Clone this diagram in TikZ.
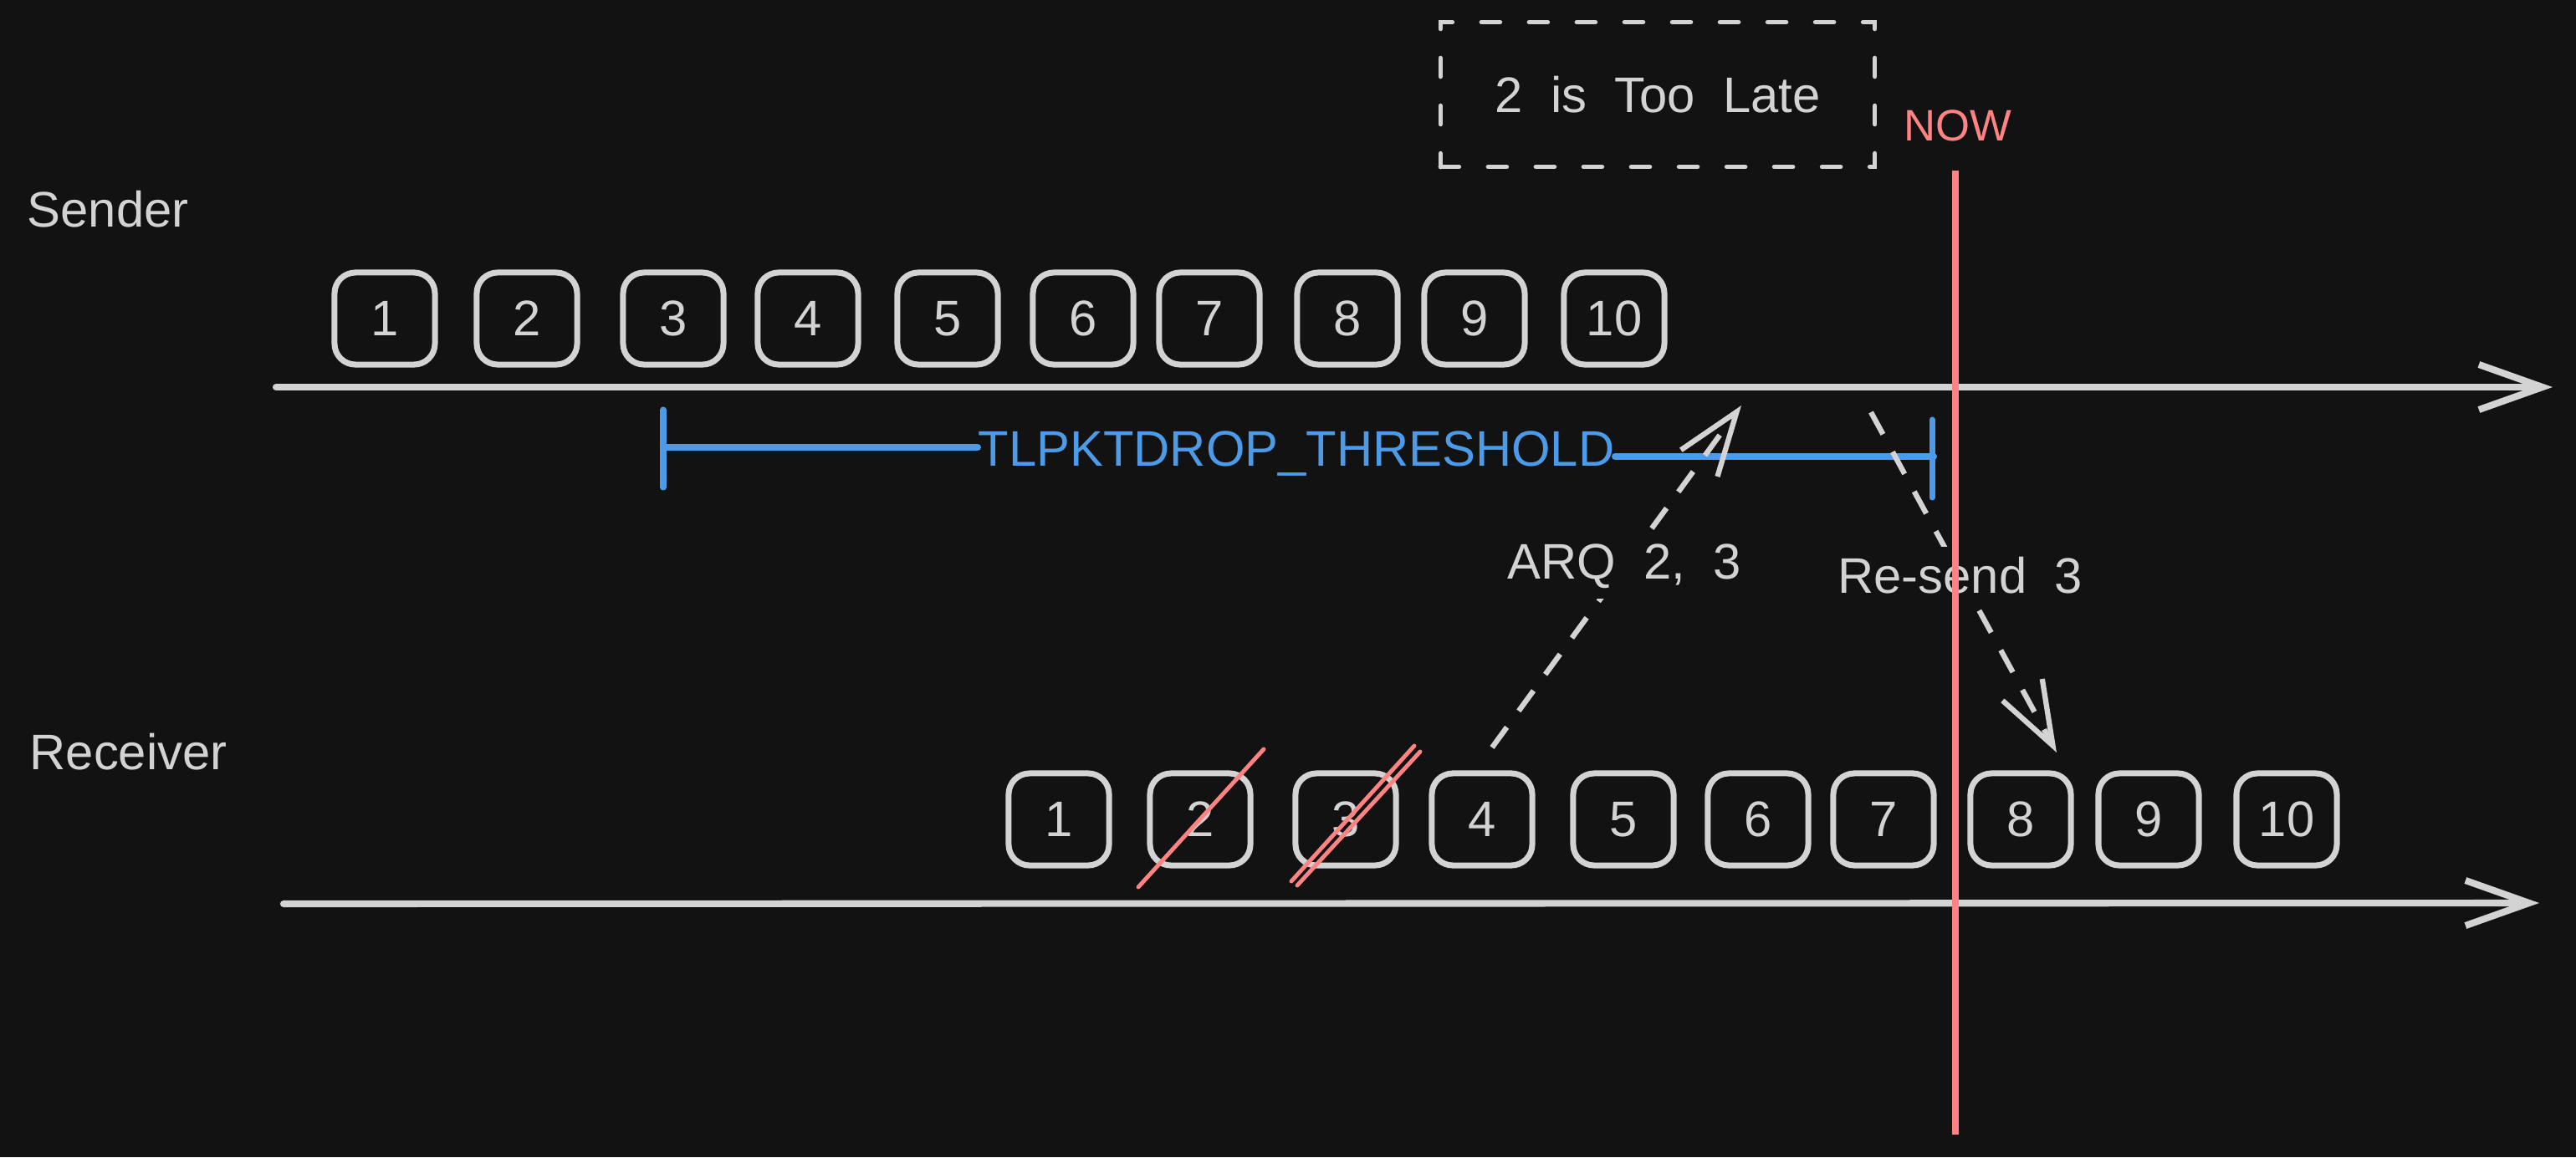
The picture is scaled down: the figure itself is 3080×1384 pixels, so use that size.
\documentclass[tikz,border=0pt]{standalone}
\usepackage{fontspec}
\setmainfont{Liberation Sans}[WordSpace=2]
\usetikzlibrary{arrows.meta}
\definecolor{bg}{HTML}{121212}
\definecolor{fg}{HTML}{D3D3D3}
\definecolor{nowred}{HTML}{FF8383}
\definecolor{thblue}{HTML}{4C9BE8}
\tikzset{
  txt/.style={font=\fontsize{17}{20}\selectfont, text=fg, inner sep=0pt},
  pkt/.style={txt, draw=fg, line width=2pt, rounded corners=0.25cm,
    minimum width=1.2cm, minimum height=1.1cm},
  axisline/.style={draw=fg, line width=2.3pt, line cap=round,
    -{Straight Barb[length=0.76cm,width=0.54cm,line width=2.3pt]}},
  dasharrow/.style={draw=fg, line width=1.8pt, dash pattern=on 0.3cm off 0.24cm,
    -{Straight Barb[length=0.76cm,width=0.54cm,line width=1.8pt]}},
  arrowlbl/.style={txt, fill=bg, inner sep=0.12cm},
  latebox/.style={txt, draw=fg, line width=1.6pt, line cap=round,
    dash pattern=on 0.22cm off 0.35cm, minimum width=5.19cm, minimum height=1.73cm},
  bluebar/.style={draw=thblue, line width=2.3pt, line cap=round},
  bluetick/.style={draw=thblue, line width=2pt, line cap=round},
  strike/.style={draw=nowred, line width=1.4pt, line cap=round},
  nowline/.style={draw=nowred, line width=2.3pt}
}
\begin{document}
\begin{tikzpicture}[x=0.01cm,y=-0.01cm]
\fill[bg] (0,0) rectangle (3080,1384);
\useasboundingbox (0,0) rectangle (3080,1384);

% labels
\node[txt, anchor=base west] (sender) at (32,271) {Sender};
\node[txt, anchor=base west] (receiver) at (35,920) {Receiver};

% sender packets
\foreach \i/\x in {1/460,2/630,3/805,4/966,5/1133,6/1295,7/1446,8/1611,9/1763,10/1930}
  \node[pkt] (s\i) at (\x,381) {\i};
% receiver packets
\foreach \i/\x in {1/1266,2/1435,3/1609,4/1772,5/1941,6/2102,7/2252,8/2416,9/2569,10/2734}
  \node[pkt] (r\i) at (\x,980) {\i};

% time axes
\coordinate (sa0) at (330,463);
\coordinate (sa1) at (3052,463);
\coordinate (ra0) at (339,1081);
\coordinate (ra1) at (3036,1080);
\draw[axisline] (sa0) -- (sa1);
\draw[axisline] (ra0) -- (ra1);

% threshold bracket
\coordinate (thLt) at (793,490);
\coordinate (thLb) at (793,583);
\coordinate (thRt) at (2310,502);
\coordinate (thRb) at (2310,595);
\coordinate (thL) at (793,535);
\coordinate (thR) at (2312,546);
\node[txt, text=thblue, anchor=base] (thr) at (1550,557) {TLPKTDROP\_THRESHOLD};
\draw[bluetick] (thLt) -- (thLb);
\draw[bluetick] (thRt) -- (thRb);
\draw[bluebar] (thL) -- (thL -| thr.west);
\draw[bluebar] (thR -| thr.east) -- (thR);

% too late box
\node[latebox] (late) at (1982,113) {2 is Too Late};

% ARQ and resend arrows
\coordinate (arqA) at (1784,894);
\coordinate (arqB) at (2082,485);
\draw[dasharrow] (arqA) -- node[arrowlbl, pos=0.53] (arqlbl) {ARQ 2, 3} (arqB);
\coordinate (rsA) at (2237,493);
\coordinate (rsB) at (2459,900);
\draw[dasharrow] (rsA) -- node[arrowlbl, pos=0.48] (rslbl) {Re-send 3} (rsB);

% strikes on lost packets
\coordinate (x2a) at (1361,1061);
\coordinate (x2b) at (1511,896);
\coordinate (x3a) at (1544,1054);
\coordinate (x3b) at (1691,892);
\coordinate (x3c) at (1551,1059);
\coordinate (x3d) at (1698,899);
\draw[strike] (x2a) -- (x2b);
\draw[strike] (x3a) -- (x3b);
\draw[strike] (x3c) -- (x3d);

% NOW line
\node[txt, text=nowred, anchor=base, font=\fontsize{15}{18}\selectfont] (now) at (2341,168) {NOW};
\coordinate (nowT) at (2338,204);
\coordinate (nowB) at (2338,1357);
\draw[nowline] (nowT) -- (nowB);
\end{tikzpicture}
\end{document}
